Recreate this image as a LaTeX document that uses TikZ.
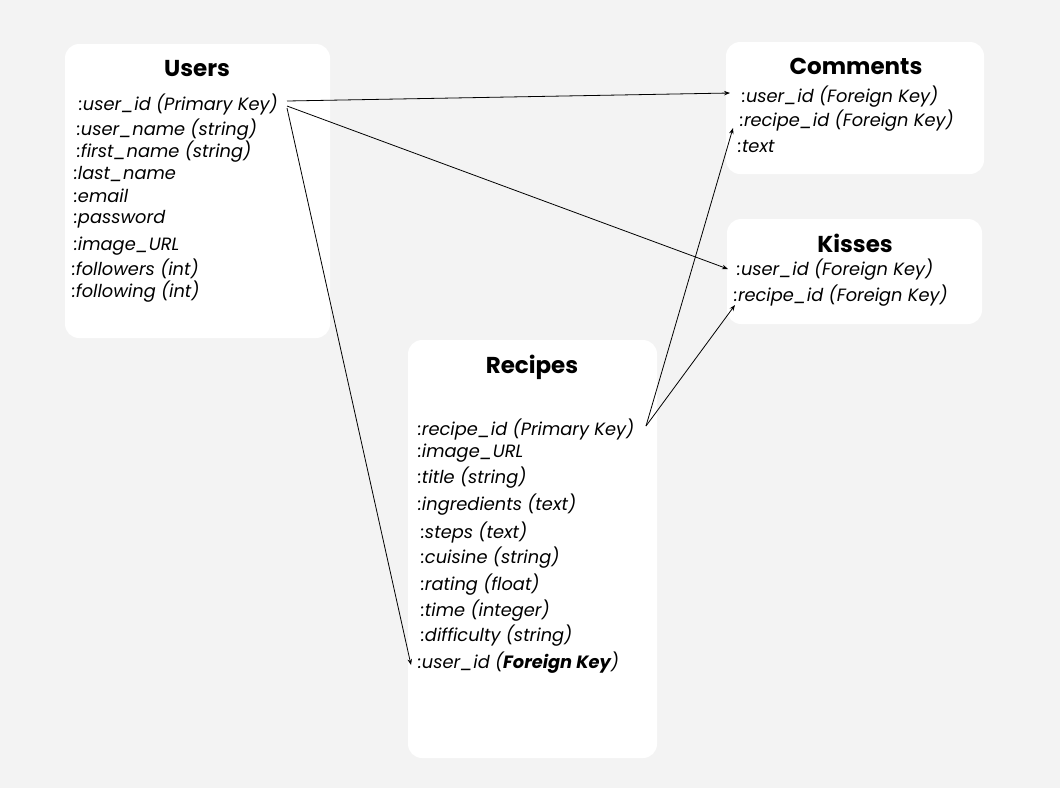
\documentclass[tikz,border=0pt]{standalone}
\usepackage{fontspec}
\setmainfont{Poppins}
\usetikzlibrary{arrows.meta}
\definecolor{bg}{HTML}{F3F3F3}
\begin{document}
\begin{tikzpicture}[x=1pt,y=-1pt,
  tbl/.style={fill=white,rounded corners=14pt},
  ttl/.style={font=\fontsize{23}{27}\selectfont\bfseries,inner sep=0pt},
  fld/.style={font=\fontsize{17.8}{20}\selectfont\itshape,anchor=west,inner sep=0pt},
  rel/.style={line width=0.8pt,-{Stealth[length=6pt,width=4.5pt]}}]
\fill[bg] (0,0) rectangle (1060,788);
\useasboundingbox (0,0) rectangle (1060,788);
% boxes
\fill[tbl] (65,44) rectangle (330,338);
\fill[tbl] (726,42) rectangle (984,174);
\fill[tbl] (727,219) rectangle (982,324);
\fill[tbl] (408,340) rectangle (657,758);
% Users
\node[ttl] (tu) at (197,69) {Users};
\node[fld] (u1) at (79,104) {:user\_id (Primary Key)};
\node[fld] (u2) at (77,130) {:user\_name (string)};
\node[fld] (u3) at (77,152) {:first\_name (string)};
\node[fld] (u4) at (74,174) {:last\_name};
\node[fld] (u5) at (74,196) {:email};
\node[fld] (u6) at (74,219) {:password};
\node[fld] (u7) at (74,246) {:image\_URL};
\node[fld] (u8) at (72,269) {:followers (int)};
\node[fld] (u9) at (72,292) {:following (int)};
% Comments
\node[ttl] (tc) at (856,66) {Comments};
\node[fld] (c1) at (742,97) {:user\_id (Foreign Key)};
\node[fld] (c2) at (740,121) {:recipe\_id (Foreign Key)};
\node[fld] (c3) at (738,146) {:text};
% Kisses
\node[ttl] (tk) at (855,243) {Kisses};
\node[fld] (k1) at (737,270) {:user\_id (Foreign Key)};
\node[fld] (k2) at (734,296) {:recipe\_id (Foreign Key)};
% Recipes
\node[ttl] (tr) at (532,367) {Recipes};
\node[fld] (r1) at (418,429) {:recipe\_id (Primary Key)};
\node[fld] (r2) at (418,453) {:image\_URL};
\node[fld] (r3) at (418,478) {:title (string)};
\node[fld] (r4) at (418,505) {:ingredients (text)};
\node[fld] (r5) at (421,532) {:steps (text)};
\node[fld] (r6) at (421,558) {:cuisine (string)};
\node[fld] (r7) at (421,585) {:rating (float)};
\node[fld] (r8) at (421,611) {:time (integer)};
\node[fld] (r9) at (421,636) {:difficulty (string)};
\node[fld] (r10) at (418,663) {:user\_id (\textbf{Foreign Key})};
% connector ends
\coordinate (ua) at (287,101);
\coordinate (ub) at (287,106);
\coordinate (uc) at (287,108);
\coordinate (ca) at (730,93);
\coordinate (ka) at (728,269);
\coordinate (ra) at (411,665);
\coordinate (rp) at (646,426);
\coordinate (cb) at (733,128);
\coordinate (kb) at (735,305);
\draw[rel] (ua) -- (ca);
\draw[rel] (ub) -- (ka);
\draw[rel] (uc) -- (ra);
\draw[rel] (rp) -- (cb);
\draw[rel] (rp) -- (kb);
\end{tikzpicture}
\end{document}
